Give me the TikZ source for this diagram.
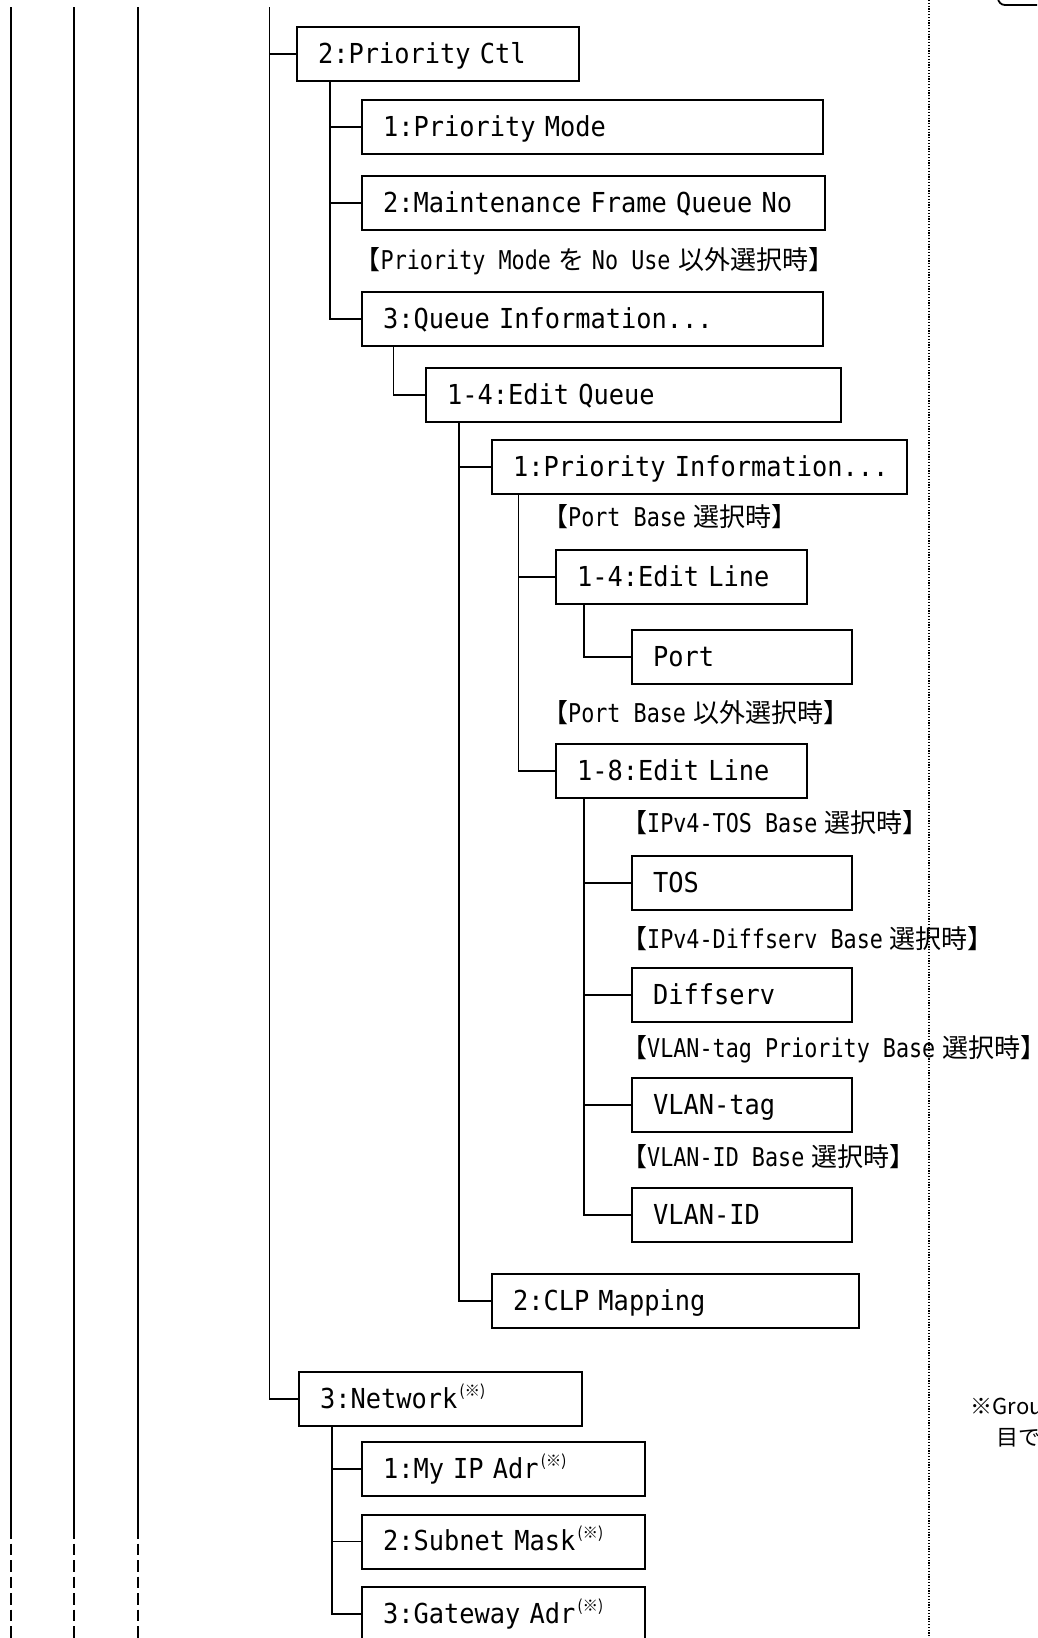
\documentclass[tikz,border=0pt]{standalone}
\usepackage{fontspec}
\newfontfamily\monoB[FakeStretch=0.922]{DejaVu Sans Mono}
\newfontfamily\monoL[FakeStretch=0.84]{DejaVu Sans Mono}
\newfontfamily\jpfont{Noto Sans CJK JP}
\newcommand\bxfont{\monoB\fontsize{27.5pt}{30pt}\selectfont}
\newcommand\lbfont{\monoL\fontsize{25.9pt}{28pt}\selectfont}
\newcommand\jp[1]{{\jpfont\fontsize{26pt}{28pt}\selectfont #1}}
\newcommand\refmark{\hspace{2pt}\raisebox{12pt}{\jpfont\fontsize{15.5pt}{16pt}\selectfont (※)}}
\begin{document}
\begin{tikzpicture}[x=1pt,y=-1pt,
  bx/.style={draw, line width=2pt, anchor=north west, outer sep=0pt,
    inner ysep=0pt, inner xsep=21pt, minimum height=54pt,
    text height=18.5pt, text depth=0pt, align=left, text width=#1, font=\bxfont},
  lb/.style={anchor=base west, inner sep=0pt, font=\lbfont},
  conn/.style={line width=1.7pt},
  side/.style={line width=1.8pt},
  sidedash/.style={line width=1.8pt, dash pattern=on 11.5pt off 5pt},
  dotline/.style={line width=1.1pt, dash pattern=on 1.1pt off 1.7pt},
  cut/.style={anchor=base west, inner sep=0pt, font=\jpfont\fontsize{22pt}{24pt}\selectfont}]
\useasboundingbox (0,0) rectangle (1037,1638);
\clip (0,0) rectangle (1037,1638);

% left vertical lines
\foreach \n/\x in {a/11,b/74,c/138}{
  \coordinate (\n t) at (\x,7);
  \coordinate (\n m) at (\x,1527);
  \coordinate (\n b) at (\x,1645);
  \draw[side] (\n t) -- (\n m);
  \draw[sidedash] (\n m) -- (\n b);
}

% dotted separator
\coordinate (dtop) at (929,0);
\coordinate (dbot) at (929,1638);
\draw[dotline] (dtop) -- (dbot);

% top right rounded box (cut)
\draw[line width=1.8pt, rounded corners=7pt] (998,-40) rectangle (1090,5);

% boxes
\node[bx=240pt] (pctl)   at (297,27)    {\mbox{2:Priority Ctl}};
\node[bx=419pt] (pmode)  at (362,100)   {\mbox{1:Priority Mode}};
\node[bx=421pt] (maint)  at (362,176)   {\mbox{2:Maintenance Frame Queue No}};
\node[bx=419pt] (qinfo)  at (362,292)   {\mbox{3:Queue Information...}};
\node[bx=373pt] (editq)  at (426,368)   {\mbox{1-4:Edit Queue}};
\node[bx=373pt] (prinfo) at (492,440)   {\mbox{1:Priority Information...}};
\node[bx=209pt] (elfour) at (556,550)   {\mbox{1-4:Edit Line}};
\node[bx=178pt] (port)   at (632,630)   {\mbox{Port}};
\node[bx=209pt] (eleight) at (556,744)  {\mbox{1-8:Edit Line}};
\node[bx=178pt] (tos)    at (632,856)   {\mbox{TOS}};
\node[bx=178pt] (diff)   at (632,968)   {\mbox{Diffserv}};
\node[bx=178pt] (vtag)   at (632,1078)  {\mbox{VLAN-tag}};
\node[bx=178pt] (vid)    at (632,1188)  {\mbox{VLAN-ID}};
\node[bx=325pt] (clp)    at (492,1274)  {\mbox{2:CLP Mapping}};
\node[bx=241pt] (net)    at (299,1372)  {\mbox{3:Network\refmark}};
\node[bx=241pt] (myip)   at (362,1442)  {\mbox{1:My IP Adr\refmark}};
\node[bx=241pt] (subnet) at (362,1514.5) {\mbox{2:Subnet Mask\refmark}};
\node[bx=241pt] (gw)     at (362,1587)  {\mbox{3:Gateway Adr\refmark}};

% condition labels
\node[lb] (lab1) at (354.5,269.5) {\jp{【}Priority Mode\hspace{7.5pt}\jp{を}\hspace{7.5pt}No Use\hspace{7.5pt}\jp{以外選択時】}};
\node[lb] (lab2) at (542,526) {\jp{【}Port Base\hspace{7pt}\jp{選択時】}};
\node[lb] (lab3) at (542,722.5) {\jp{【}Port Base\hspace{7pt}\jp{以外選択時】}};
\node[lb] (lab4) at (621,832.5) {\jp{【}IPv4-TOS Base\hspace{7pt}\jp{選択時】}};
\node[lb] (lab5) at (621,948.5) {\jp{【}IPv4-Diffserv Base\hspace{7pt}\jp{選択時】}};
\node[lb] (lab6) at (621,1057.5) {\jp{【}VLAN-tag Priority Base\hspace{7pt}\jp{選択時】}};
\node[lb] (lab7) at (621,1166) {\jp{【}VLAN-ID Base\hspace{7pt}\jp{選択時】}};

% cut-off note on the right
\node[cut] (notea) at (970.5,1414.5) {※Grou};
\node[cut] (noteb) at (996.5,1445) {目で};

% connectors
\coordinate (trunk) at (269.5,7);
\draw[conn] (trunk) |- (pctl.west);
\draw[conn] (trunk) |- (net.west);

\coordinate (pctlb) at ([xshift=33pt]pctl.south west);
\draw[conn] (pctlb) |- (pmode.west);
\draw[conn] (pctlb) |- (maint.west);
\draw[conn] (pctlb) |- (qinfo.west);

\coordinate (qinfob) at ([xshift=31.5pt]qinfo.south west);
\draw[conn] (qinfob) |- (editq.west);

\coordinate (editqb) at ([xshift=33pt]editq.south west);
\draw[conn] (editqb) |- (prinfo.west);
\draw[conn] (editqb) |- (clp.west);

\coordinate (prinfob) at ([xshift=26.5pt]prinfo.south west);
\draw[conn] (prinfob) |- (elfour.west);
\draw[conn] (prinfob) |- (eleight.west);

\coordinate (elfourb) at ([xshift=28pt]elfour.south west);
\draw[conn] (elfourb) |- (port.west);

\coordinate (eleightb) at ([xshift=28pt]eleight.south west);
\draw[conn] (eleightb) |- (tos.west);
\draw[conn] (eleightb) |- (diff.west);
\draw[conn] (eleightb) |- (vtag.west);
\draw[conn] (eleightb) |- (vid.west);

\coordinate (netb) at ([xshift=33pt]net.south west);
\draw[conn] (netb) |- (myip.west);
\draw[conn] (netb) |- (subnet.west);
\draw[conn] (netb) |- (gw.west);
\end{tikzpicture}
\end{document}
